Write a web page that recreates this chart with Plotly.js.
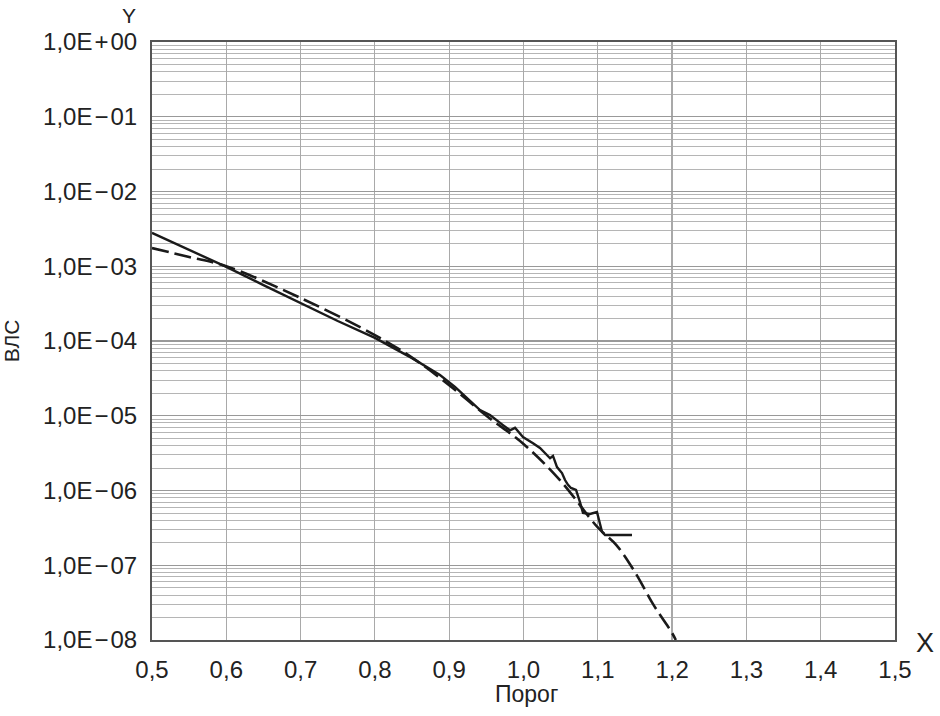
<!DOCTYPE html>
<html>
<head>
<meta charset="utf-8">
<script src="https://cdn.plot.ly/plotly-3.0.1.min.js"></script>
<style>html,body{margin:0;padding:0;background:#fff;}#chart{width:940px;height:716px;}</style>
</head>
<body>
<div id="chart"></div>
<script>
// Empirical (solid, stepwise) curve
const solidX = [0.5, 0.55, 0.6, 0.65, 0.7, 0.75, 0.8, 0.85, 0.8876, 0.9078, 0.9415, 0.9549, 0.9724, 0.9818, 0.9886, 0.9993, 1.0128, 1.0222, 1.0357, 1.0397, 1.0451, 1.0518, 1.0559, 1.0599, 1.0639, 1.0707, 1.0760, 1.0801, 1.0895, 1.0989, 1.1057, 1.1097, 1.1460];
const solidY = [2.8e-3, 1.65e-3, 9.8e-4, 5.6e-4, 3.2e-4, 1.85e-4, 1.1e-4, 5.9e-5, 3.5e-5, 2.43e-5, 1.19e-5, 1.02e-5, 7.5e-6, 6.4e-6, 6.9e-6, 5.2e-6, 4.3e-6, 3.7e-6, 2.7e-6, 2.9e-6, 2.06e-6, 1.71e-6, 1.38e-6, 1.19e-6, 1.08e-6, 1.02e-6, 7.0e-7, 5.0e-7, 4.85e-7, 5.15e-7, 2.79e-7, 2.54e-7, 2.54e-7];

// Fitted (dashed) curve
const dashX = [0.5, 0.55, 0.6, 0.7, 0.8, 0.85, 0.9, 0.95, 1.0, 1.05, 1.1, 1.125, 1.15, 1.175, 1.2, 1.205];
const dashY = [1.75e-3, 1.33e-3, 1.0e-3, 3.76e-4, 1.2e-4, 6.0e-5, 2.57e-5, 1.0e-5, 4.2e-6, 1.34e-6, 3.2e-7, 1.86e-7, 8.1e-8, 2.95e-8, 1.24e-8, 1.0e-8];

const xTickVals = [0.5, 0.6, 0.7, 0.8, 0.9, 1.0, 1.1, 1.2, 1.3, 1.4, 1.5];
const xTickText = ["0,5", "0,6", "0,7", "0,8", "0,9", "1,0", "1,1", "1,2", "1,3", "1,4", "1,5"];
const yTickVals = [1, 1e-1, 1e-2, 1e-3, 1e-4, 1e-5, 1e-6, 1e-7, 1e-8];
const yTickText = ["1,0E\u200a+\u200a00", "1,0E\u200a\u2212\u200a01", "1,0E\u200a\u2212\u200a02", "1,0E\u200a\u2212\u200a03", "1,0E\u200a\u2212\u200a04", "1,0E\u200a\u2212\u200a05", "1,0E\u200a\u2212\u200a06", "1,0E\u200a\u2212\u200a07", "1,0E\u200a\u2212\u200a08"];

const traces = [
  {x: dashX, y: dashY, mode: 'lines', line: {color: '#1a1a1a', width: 2.6, dash: '17px,6px', shape: 'spline'}, hoverinfo: 'skip'},
  {x: solidX, y: solidY, mode: 'lines', line: {color: '#1a1a1a', width: 2.4}, hoverinfo: 'skip'}
];

const fam = 'Liberation Sans, Arial, sans-serif';
const txt = '#222';

const layout = {
  width: 940, height: 716,
  margin: {l: 152, r: 45, t: 42, b: 76},
  paper_bgcolor: '#fff', plot_bgcolor: '#fff',
  showlegend: false,
  font: {family: fam, color: txt},
  xaxis: {
    range: [0.5, 1.5], tickvals: xTickVals, ticktext: xTickText,
    showgrid: true, gridcolor: '#a9a9a9', gridwidth: 1.2,
    showline: true, linecolor: '#555', linewidth: 2, mirror: true,
    ticks: '', ticklabelstandoff: 7, tickfont: {size: 24, family: fam, color: txt},
    zeroline: false
  },
  yaxis: {
    type: 'log', range: [-8, 0], tickvals: yTickVals, ticktext: yTickText,
    showgrid: true, gridcolor: '#999', gridwidth: 1.2,
    minor: {dtick: 'D1', showgrid: true, gridcolor: '#b5b5b5', gridwidth: 1, ticks: ''},
    showline: true, linecolor: '#555', linewidth: 2, mirror: true,
    ticks: '', ticklabelstandoff: 8, tickfont: {size: 24, family: fam, color: txt},
    zeroline: false,
    title: {text: 'ВЛС', font: {size: 21, family: fam, color: txt}, standoff: 20}
  },
  annotations: [
    {text: 'Порог', xref: 'paper', yref: 'paper', x: (526 - 152) / 743, y: 0, yshift: -54, xanchor: 'center', yanchor: 'middle', showarrow: false, font: {size: 23, family: fam, color: txt}},
    {text: 'Y', xref: 'paper', yref: 'paper', x: (129 - 152) / 743, y: 1, yshift: 27, xanchor: 'center', yanchor: 'middle', showarrow: false, font: {size: 21, family: fam, color: txt}},
    {text: 'X', xref: 'paper', yref: 'paper', x: 1, y: 0, xshift: 30, yshift: -3, xanchor: 'center', yanchor: 'middle', showarrow: false, font: {size: 27, family: fam, color: txt}}
  ]
};

Plotly.newPlot('chart', traces, layout, {staticPlot: true, displayModeBar: false});
</script>
</body>
</html>
